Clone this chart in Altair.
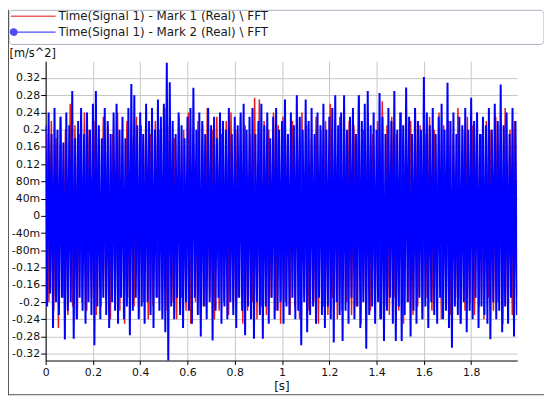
import altair as alt
import pandas as pd

series_names = ["Time(Signal 1) - Mark 1 (Real) \\ FFT", "Time(Signal 1) - Mark 2 (Real) \\ FFT"]
series_colors = ["#e21b1b", "#0000ff"]

y_ticks = [-0.32, -0.28, -0.24, -0.2, -0.16, -0.12, -0.08, -0.04, 0,
           0.04, 0.08, 0.12, 0.16, 0.2, 0.24, 0.28, 0.32]
x_ticks = [0, 0.2, 0.4, 0.6, 0.8, 1.0, 1.2, 1.4, 1.6, 1.8]

# sampling step of the peak/trough pairs (s)
blue_dt = 0.0125
red_dt = 0.02

blue_top = [
    0.21, 0.24, 0.19, 0.25, 0.20, 0.23, 0.17, 0.24, 0.21, 0.29,
    0.18, 0.22, 0.25, 0.19, 0.24, 0.20, 0.26, 0.29, 0.21, 0.18,
    0.25, 0.22, 0.19, 0.24, 0.26, 0.20, 0.23, 0.18, 0.25, 0.306,
    0.28, 0.21, 0.24, 0.19, 0.26, 0.22, 0.25, 0.20, 0.27, 0.23,
    0.26, 0.355, 0.31, 0.22, 0.19, 0.24, 0.21, 0.18, 0.23, 0.25,
    0.297, 0.20, 0.24, 0.22, 0.19, 0.25, 0.21, 0.23, 0.18, 0.24,
    0.22, 0.20, 0.25, 0.19, 0.23, 0.21, 0.24, 0.26, 0.20, 0.23,
    0.25, 0.19, 0.22, 0.26, 0.21, 0.24, 0.18, 0.23, 0.25, 0.20,
    0.22, 0.27, 0.19, 0.24, 0.21, 0.28, 0.23, 0.20, 0.27, 0.22,
    0.25, 0.19, 0.24, 0.21, 0.26, 0.20, 0.23, 0.25, 0.28, 0.21,
    0.24, 0.28, 0.20, 0.23, 0.25, 0.19, 0.28, 0.22, 0.26, 0.29,
    0.21, 0.24, 0.20, 0.285, 0.23, 0.19, 0.25, 0.22, 0.29, 0.20,
    0.24, 0.21, 0.298, 0.23, 0.19, 0.25, 0.22, 0.20, 0.322, 0.24,
    0.21, 0.25, 0.19, 0.23, 0.26, 0.20, 0.309, 0.22, 0.24, 0.19,
    0.23, 0.21, 0.25, 0.20, 0.274, 0.22, 0.24, 0.19, 0.23, 0.21,
    0.25, 0.20, 0.26, 0.22, 0.305, 0.21, 0.24, 0.19, 0.25, 0.22,
]
blue_bot = [
    -0.21, -0.18, -0.26, -0.20, -0.23, -0.19, -0.287, -0.22, -0.20, -0.285,
    -0.24, -0.19, -0.22, -0.25, -0.20, -0.23, -0.30, -0.21, -0.24, -0.19,
    -0.23, -0.26, -0.20, -0.22, -0.25, -0.19, -0.24, -0.21, -0.277, -0.22,
    -0.19, -0.24, -0.21, -0.25, -0.20, -0.23, -0.26, -0.19, -0.22, -0.24,
    -0.27, -0.338, -0.21, -0.24, -0.19, -0.23, -0.26, -0.20, -0.22, -0.25,
    -0.19, -0.23, -0.28, -0.21, -0.24, -0.20, -0.289, -0.22, -0.19, -0.25,
    -0.21, -0.24, -0.20, -0.23, -0.26, -0.19, -0.22, -0.277, -0.21, -0.24,
    -0.285, -0.20, -0.23, -0.285, -0.21, -0.25, -0.19, -0.24, -0.22, -0.20,
    -0.25, -0.21, -0.23, -0.19, -0.24, -0.22, -0.30, -0.20, -0.27, -0.23,
    -0.21, -0.25, -0.19, -0.23, -0.26, -0.21, -0.24, -0.294, -0.20, -0.23,
    -0.29, -0.22, -0.25, -0.19, -0.24, -0.21, -0.26, -0.20, -0.308, -0.23,
    -0.21, -0.25, -0.20, -0.24, -0.29, -0.22, -0.19, -0.25, -0.29, -0.21,
    -0.29, -0.23, -0.20, -0.28, -0.22, -0.25, -0.19, -0.24, -0.21, -0.26,
    -0.20, -0.23, -0.25, -0.19, -0.24, -0.22, -0.26, -0.306, -0.21, -0.23,
    -0.25, -0.20, -0.27, -0.22, -0.24, -0.19, -0.26, -0.21, -0.23, -0.25,
    -0.286, -0.20, -0.24, -0.22, -0.27, -0.21, -0.25, -0.19, -0.28, -0.23,
]
red_top = [
    0.19, 0.22, 0.18, 0.23, 0.20, 0.26, 0.21, 0.19, 0.24, 0.20,
    0.22, 0.18, 0.23, 0.21, 0.19, 0.24, 0.20, 0.22, 0.18, 0.23,
    0.21, 0.24, 0.19, 0.22, 0.20, 0.25, 0.21, 0.18, 0.23, 0.20,
    0.24, 0.19, 0.22, 0.21, 0.25, 0.20, 0.23, 0.19, 0.22, 0.24,
    0.20, 0.23, 0.21, 0.19, 0.274, 0.27, 0.22, 0.20, 0.24, 0.21,
    0.23, 0.19, 0.22, 0.20, 0.24, 0.21, 0.18, 0.23, 0.20, 0.22,
    0.26, 0.20, 0.23, 0.19, 0.22, 0.21, 0.28, 0.20, 0.24, 0.19,
    0.22, 0.266, 0.21, 0.23, 0.19, 0.24, 0.20, 0.22, 0.25, 0.21,
    0.19, 0.23, 0.20, 0.24, 0.21, 0.22, 0.19, 0.25, 0.20, 0.23,
    0.21, 0.24, 0.19, 0.22, 0.20, 0.23, 0.21, 0.25, 0.20, 0.22,
]
red_bot = [
    -0.20, -0.22, -0.26, -0.19, -0.23, -0.21, -0.24, -0.20, -0.22, -0.19,
    -0.23, -0.21, -0.19, -0.24, -0.20, -0.22, -0.25, -0.19, -0.21, -0.23,
    -0.20, -0.24, -0.21, -0.19, -0.23, -0.22, -0.20, -0.24, -0.19, -0.22,
    -0.25, -0.20, -0.23, -0.21, -0.19, -0.24, -0.22, -0.20, -0.23, -0.21,
    -0.19, -0.25, -0.22, -0.20, -0.24, -0.21, -0.23, -0.19, -0.22, -0.25,
    -0.20, -0.23, -0.21, -0.24, -0.19, -0.22, -0.20, -0.25, -0.21, -0.23,
    -0.19, -0.24, -0.22, -0.20, -0.23, -0.21, -0.25, -0.19, -0.22, -0.20,
    -0.24, -0.21, -0.23, -0.19, -0.22, -0.25, -0.20, -0.23, -0.21, -0.24,
    -0.19, -0.22, -0.20, -0.24, -0.21, -0.23, -0.19, -0.25, -0.22, -0.20,
    -0.23, -0.21, -0.24, -0.19, -0.22, -0.20, -0.25, -0.21, -0.23, -0.19,
]


def build(tops, bots, dt, offset, name):
    rows = []
    for i, (a, b) in enumerate(zip(tops, bots)):
        rows.append({"t": offset + i * dt, "v": a, "series": name})
        rows.append({"t": offset + i * dt + dt / 2, "v": b, "series": name})
    return pd.DataFrame(rows)


red_df = build(red_top, red_bot, red_dt, 0.004, series_names[0])
blue_df = build(blue_top, blue_bot, blue_dt, 0.0, series_names[1])

FONT = "DejaVu Sans"

line_path = "M-4.5,0L4.5,0"


def ring(cx, r):
    return f"M{cx - r},0a{r},{r} 0 1,0 {2 * r},0a{r},{r} 0 1,0 {-2 * r},0"


dot_path = line_path + ring(-3.95, 0.15) + ring(-3.95, 0.4) + ring(-3.95, 0.65)

legend = alt.Legend(
    title=None, orient="none", legendX=-36, legendY=-51.5,
    symbolSize=100, symbolStrokeWidth=1.4, symbolOffset=17.5, labelOffset=19.5,
    labelFont=FONT, labelFontSize=12, labelColor="#1a1a1a", labelLimit=400,
    rowPadding=3, padding=0,
)

color_enc = alt.Color("series:N", scale=alt.Scale(domain=series_names, range=series_colors), legend=legend)

x_axis = alt.Axis(
    values=x_ticks, labelExpr="format(datum.value, '.1~f')", labelFlush=False,
    labelOverlap=False,
    title="[s]", titleFont=FONT, titleFontSize=12, titleFontWeight="normal",
    titleColor="#111", titleBaseline="alphabetic", titleY=29,
    labelFont=FONT, labelFontSize=11, labelColor="#111", labelPadding=2,
    grid=True, gridColor="#c6c6c6", gridWidth=1,
    domainColor="#000", tickColor="#000", tickSize=4,
)
y_axis = alt.Axis(
    values=y_ticks, labelOverlap=False, labelBound=False,
    labelExpr="datum.value == 0 ? '0' : (datum.value < 0 ? '-' : '') + (abs(datum.value) < 0.1 ? format(abs(datum.value) * 1000, '.0f') + 'm' : format(abs(datum.value), '.2~f'))",
    title="[m/s^2]", titleAngle=0, titleAlign="left", titleBaseline="alphabetic",
    titleX=-37, titleY=-5, titleFont=FONT, titleFontSize=11.5, titleFontWeight="normal",
    titleColor="#111",
    labelFont=FONT, labelFontSize=11, labelColor="#111", labelPadding=1,
    grid=True, gridColor="#c6c6c6", gridWidth=1,
    domainColor="#000", tickColor="#000", tickSize=5,
)
x_enc = alt.X("t:Q", scale=alt.Scale(domain=[0, 1.995], nice=False, zero=False), axis=x_axis)
y_enc = alt.Y("v:Q", scale=alt.Scale(domain=[-0.3356, 0.3586], nice=False, zero=False), axis=y_axis)

box = alt.Chart(pd.DataFrame({"k": [0]})).mark_rect(
    fill="white", stroke="#a9b2bf", strokeWidth=1, cornerRadius=4, clip=False
).encode(x=alt.value(-37), x2=alt.value(503), y=alt.value(-51.5), y2=alt.value(-17))

red_line = alt.Chart(red_df).mark_line(strokeWidth=1.5, clip=True).encode(
    x=x_enc, y=y_enc, color=color_enc, order="t:Q"
)
blue_line = alt.Chart(blue_df).mark_line(strokeWidth=2.0, clip=True).encode(
    x=x_enc, y=y_enc, color=color_enc, order="t:Q"
)
legend_pts = alt.Chart(blue_df).transform_filter("false").mark_point(
    filled=False, size=100, strokeWidth=1.4
).encode(
    x=x_enc, y=y_enc, color=color_enc,
    shape=alt.Shape("series:N", scale=alt.Scale(domain=series_names, range=[line_path, dot_path]), legend=legend),
)

frame_left = alt.Chart(pd.DataFrame({"k": [0]})).mark_rule(color="#555", strokeWidth=1, clip=False).encode(
    x=alt.value(-37.5), y=alt.value(-52), y2=alt.value(337)
)
frame_bottom = alt.Chart(pd.DataFrame({"k": [0]})).mark_rule(color="#555", strokeWidth=1, clip=False).encode(
    x=alt.value(-38), x2=alt.value(505), y=alt.value(336.5)
)

chart = alt.layer(box, red_line, blue_line, legend_pts, frame_left, frame_bottom).properties(
    width=476, height=302,
    autosize=alt.AutoSizeParams(type="none"),
    padding={"left": 38, "top": 52, "right": 27, "bottom": 36},
    background="white",
).configure_view(stroke=None).configure_axis(labelOverlap=False)

chart.save("out.html", embed_options={"renderer": "svg", "actions": False})
